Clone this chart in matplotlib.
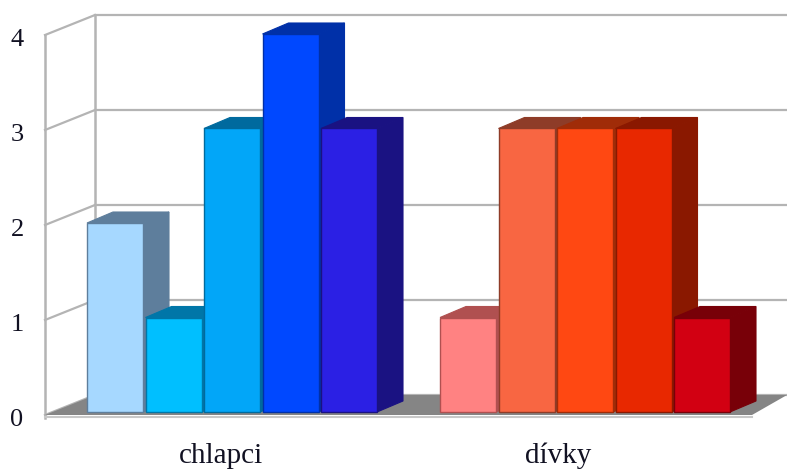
import matplotlib.pyplot as plt
from matplotlib.patches import Polygon

# data
groups = ['chlapci', 'dívky']
chlapci = [2, 1, 3, 4, 3]
divky = [1, 3, 3, 3, 1]
yticks = [0, 1, 2, 3, 4]

front_colors = [['#A6D8FF', '#00BFFF', '#02A6F8', '#0048FF', '#2B20E4'],
                ['#FF8282', '#F86642', '#FF4812', '#E82800', '#D20012']]
side_colors = [['#5E7E9C', '#0076A8', '#006A9E', '#0030A8', '#1A1282'],
               ['#B05050', '#8E3C28', '#A02C08', '#8A1800', '#780008']]

fig = plt.figure(figsize=(7.87, 4.73), dpi=100)
ax = fig.add_axes([0, 0, 1, 1])
ax.set_xlim(0, 787)
ax.set_ylim(473, 0)
ax.axis('off')

# geometry (pixels)
x_front, x_back = 45, 95
def y_front(v):
    return 415 - 95 * v
def y_back(v):
    return 395 - 95 * v
def y_bar(v):
    return 412 - 94.5 * v

grid = '#B4B4B4'
# walls grid
for v in yticks:
    ax.plot([x_back, 787], [y_back(v), y_back(v)], color=grid, lw=1.6, zorder=1)
    ax.plot([x_front, x_back], [y_front(v), y_back(v)], color=grid, lw=1.6, zorder=1)
    ax.text(17, y_front(v) + 5, str(v), fontsize=19, family='Liberation Serif',
            ha='center', va='center', color='#111122')
ax.plot([x_back, x_back], [y_back(0), y_back(4)], color=grid, lw=1.8, zorder=1)
ax.plot([x_front, x_front], [y_front(0) + 3, y_front(4)], color=grid, lw=1.8, zorder=1)

# floor
floor = Polygon([(x_front, y_front(0)), (x_back, y_back(0)), (787, y_back(0)),
                 (752, y_front(0))], closed=True, fc='#858585', ec='none', zorder=2)
ax.add_patch(floor)
ax.plot([x_front, 752], [y_front(0) + 1.5, y_front(0) + 1.5], color='#C8C8C8', lw=1.5, zorder=2)

# bars
bw, gap = 56, 2.5
starts = [87, 440]
bdx, bdy = 26, -11
for g, vals in enumerate([chlapci, divky]):
    for i, v in enumerate(vals):
        x0 = starts[g] + i * (bw + gap)
        x1 = x0 + bw
        yt, yb = y_bar(v), y_bar(0)
        fc, sc = front_colors[g][i], side_colors[g][i]
        z = 3 + i
        side = Polygon([(x1, yb), (x1 + bdx, yb + bdy), (x1 + bdx, yt + bdy), (x1, yt)],
                       closed=True, fc=sc, ec=sc, lw=0.8, zorder=z)
        top = Polygon([(x0, yt), (x0 + bdx, yt + bdy), (x1 + bdx, yt + bdy), (x1, yt)],
                      closed=True, fc=sc, ec=sc, lw=0.8, zorder=z)
        front = Polygon([(x0, yb), (x0, yt), (x1, yt), (x1, yb)],
                        closed=True, fc=fc, ec=sc, lw=1.0, zorder=z + 0.5)
        ax.add_patch(side)
        ax.add_patch(top)
        ax.add_patch(front)
    cx = 221 + 337 * g
    ax.text(cx, 456, groups[g], fontsize=21, family='Liberation Serif',
            ha='center', va='center', color='#111122')

fig.savefig('out.png', dpi=100)
